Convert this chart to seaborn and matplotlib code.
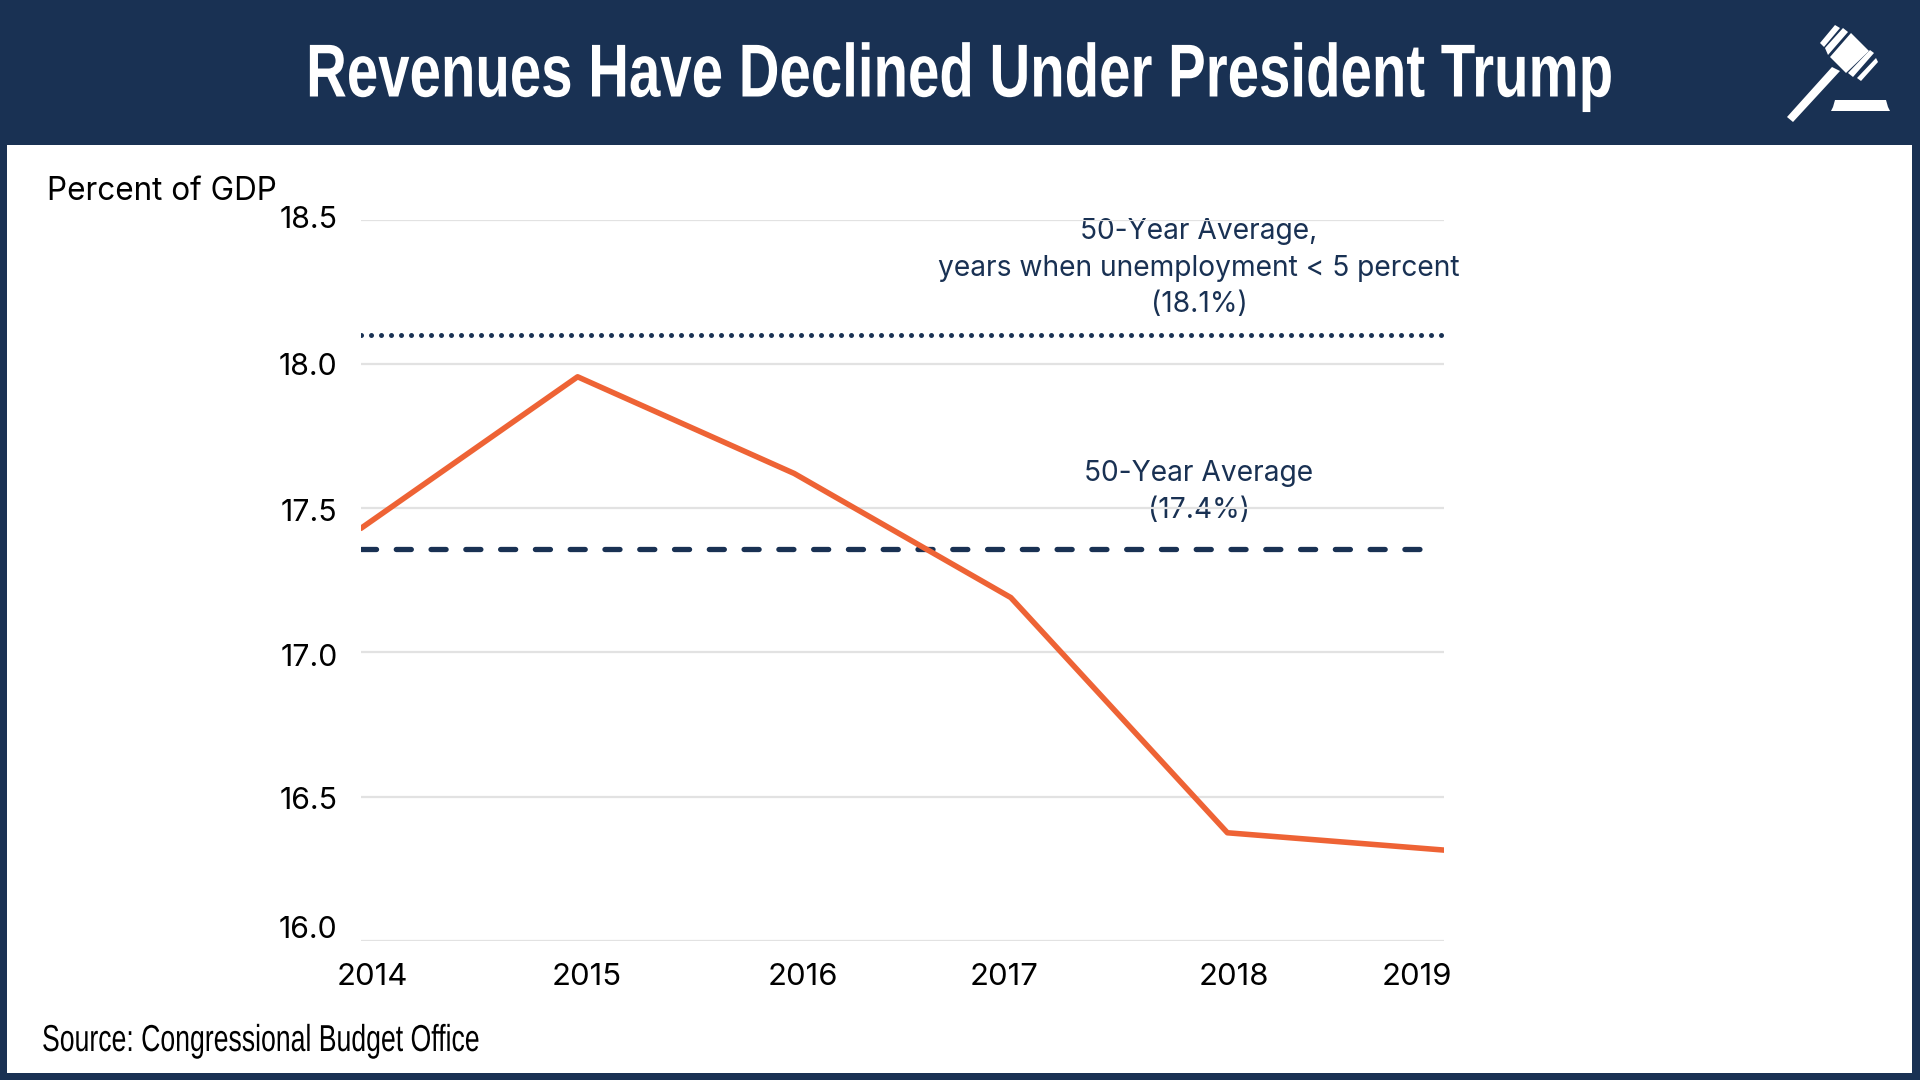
import pandas as pd
import seaborn as sns
import matplotlib.pyplot as plt
from matplotlib.patches import Polygon, Rectangle
from matplotlib.patheffects import AbstractPathEffect
from matplotlib.transforms import Affine2D, ScaledTranslation

# Data
years = [2014, 2015, 2016, 2017, 2018, 2019]
revenues = [17.43, 17.955, 17.62, 17.19, 16.375, 16.315]
avg_50yr = [17.36, 17.36]
avg_50yr_years = [2014, 2018.92]
avg_low_unemp = [18.10, 18.10]
avg_low_unemp_years = [2014, 2019]
y_ticks = [16.0, 16.5, 17.0, 17.5, 18.0, 18.5]

title = "Revenues Have Declined Under President Trump"
source = "Source: Congressional Budget Office"
y_title = "Percent of GDP"
label_low_unemp = "50-Year Average,\nyears when unemployment < 5 percent\n(18.1%)"
label_avg = "50-Year Average\n(17.4%)"

NAVY = "#193153"
ORANGE = "#ee6335"
GRID = "#e2e2e2"
BODY_FONT = ["Inter", "DejaVu Sans"]
HEAD_FONT = ["Liberation Sans", "DejaVu Sans"]


# No condensed font is installed, so squeeze the glyph outlines sideways
class Squeeze(AbstractPathEffect):
    def __init__(self, anchor_x, factor):
        super().__init__()
        self.anchor_x = anchor_x
        self.factor = factor

    def draw_path(self, renderer, gc, tpath, affine, rgbFace=None):
        squeeze = Affine2D().translate(-self.anchor_x, 0).scale(self.factor, 1).translate(self.anchor_x, 0)
        renderer.draw_path(gc, tpath, affine + squeeze, rgbFace)


sns.set_theme(style="white")
plt.rcParams["font.family"] = BODY_FONT

fig = plt.figure(figsize=(19.2, 10.8), dpi=100, facecolor=NAVY)

# Overlay in pixel coordinates for the frame, header and icon
bg = fig.add_axes([0, 0, 1, 1], zorder=0)
bg.set_xlim(0, 1920)
bg.set_ylim(1080, 0)
bg.axis("off")
bg.add_patch(Rectangle((7, 145), 1905, 928, color="white", lw=0))

bg.text(960, 77, title, color="white", fontsize=54, fontweight="bold", family=HEAD_FONT,
        ha="center", va="center", path_effects=[Squeeze(960, 0.752)])
bg.text(42, 1041, source, color="black", fontsize=27, family=HEAD_FONT,
        ha="left", va="center", path_effects=[Squeeze(42, 0.71)])
bg.text(47, 191, y_title, color="black", fontsize=22.7, ha="left", va="center")

# Gavel icon, outlines in pixels
gavel = [
    [(1851, 33), (1869, 51), (1846, 73), (1830, 57)],
    [(1820, 43), (1835, 25), (1840, 28), (1824, 47)],
    [(1825, 48), (1843, 28), (1848, 32), (1828, 55)],
    [(1848, 73), (1870, 50), (1874, 53), (1853, 77)],
    [(1857, 78), (1876, 58), (1878, 62), (1861, 81)],
    [(1832, 67), (1840, 71), (1793, 122), (1787, 117)],
    [(1835, 100), (1886, 100), (1888, 107), (1890, 111), (1831, 111), (1833, 107)],
]
for points in gavel:
    bg.add_patch(Polygon(points, closed=True, color="white", lw=0))

# Chart area
ax = fig.add_axes([361 / 1920, 1 - 941 / 1080, 1083 / 1920, 721.5 / 1080], zorder=1)
ax.patch.set_alpha(0)

sns.lineplot(x=avg_low_unemp_years, y=avg_low_unemp, ax=ax, color=NAVY, lw=3.6,
             linestyle=(0, (0.01, 1.99)), dash_capstyle="round", zorder=3)
sns.lineplot(x=avg_50yr_years, y=avg_50yr, ax=ax, color=NAVY, lw=3.8,
             linestyle=(0, (2.85, 3.74)), dash_capstyle="round", zorder=3)
df = pd.DataFrame({"year": years, "revenues": revenues})
sns.lineplot(data=df, x="year", y="revenues", ax=ax, color=ORANGE, lw=4,
             solid_capstyle="round", zorder=4)

ax.set_xlim(years[0], years[-1])
ax.set_ylim(y_ticks[0], y_ticks[-1])
ax.set_xticks(years)
ax.set_yticks(y_ticks)
ax.set_yticklabels([f"{v:.1f}" for v in y_ticks])
ax.set_xlabel("")
ax.set_ylabel("")
ax.grid(axis="y", color=GRID, lw=1.6, zorder=0)
ax.grid(axis="x", visible=False)
ax.set_axisbelow(True)
sns.despine(ax=ax, left=True, bottom=True)
ax.tick_params(axis="x", length=0, pad=16, labelsize=22.4, labelcolor="black")
ax.tick_params(axis="y", length=0, pad=17, labelsize=21.8, labelcolor="black")

# The tick labels sit a little off their ticks in the original
x_nudge = [11, 9, 9, -7, 6, -27]
y_nudge = [14, -1, -3, -2, 0, 3]
for lab, dx in zip(ax.get_xticklabels(), x_nudge):
    lab.set_transform(lab.get_transform() + ScaledTranslation(dx / 100, 0, fig.dpi_scale_trans))
for lab, dy in zip(ax.get_yticklabels(), y_nudge):
    lab.set_transform(lab.get_transform() + ScaledTranslation(0, dy / 100, fig.dpi_scale_trans))

bg.text(1199, 268, label_low_unemp, color=NAVY, fontsize=20.3, ha="center", va="center",
        linespacing=1.45)
bg.text(1199, 492, label_avg, color=NAVY, fontsize=20.3, ha="center", va="center",
        linespacing=1.45)

plt.savefig("out.png", dpi=100, facecolor=fig.get_facecolor())
